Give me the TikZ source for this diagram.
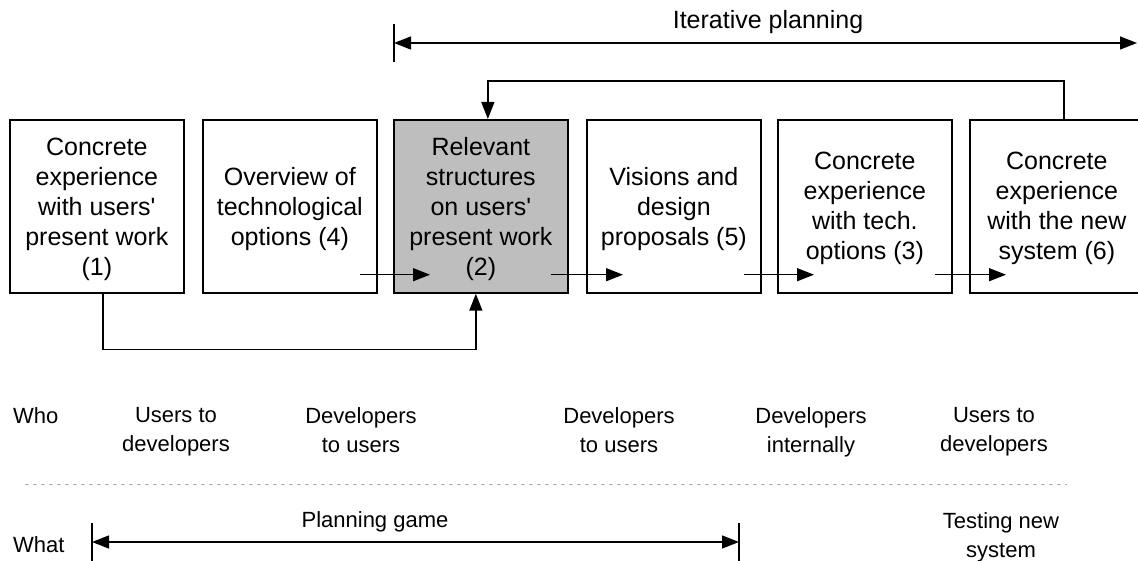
\documentclass[tikz,border=0pt]{standalone}
\usepackage{fontspec}
\setmainfont{Liberation Sans}[Ligatures=TeXOff]
\usetikzlibrary{arrows.meta,calc}
\definecolor{boxgray}{RGB}{190,190,190}
\begin{document}
\begin{tikzpicture}[x=1pt,y=-1pt,
  box/.style={draw,line width=1.7pt,minimum width=174pt,minimum height=173pt,inner sep=0pt,anchor=north west},
  boxtext/.style={align=center,inner sep=0pt,font=\fontsize{25}{30}\selectfont},
  lowtext/.style={align=center,inner sep=0pt,font=\fontsize{22}{29}\selectfont},
  conn/.style={line width=1.4pt},
  arr/.style={line width=1.4pt,-{Triangle[length=17pt,width=13pt]}},
  dblarr/.style={line width=1.4pt,{Triangle[length=17pt,width=13pt]}-{Triangle[length=17pt,width=13pt]}},
  sepline/.style={draw=gray!60,line width=1pt,dash pattern=on 4pt off 4pt}
]
\useasboundingbox (0,0) rectangle (1138,561);
\clip (0,0) rectangle (1138,561);

% boxes
\node[box] (b1) at (9,119) {};
\node[box] (b2) at (202,119) {};
\node[box,fill=boxgray] (b3) at (393,119) {};
\node[box] (b4) at (586,119) {};
\node[box] (b5) at (777,119) {};
\node[box] (b6) at (969,119) {};

% box texts
\node[boxtext] (t1) at ($(b1.center)+(0,3)$) {Concrete\\experience\\with users'\\present work\\(1)};
\node[boxtext] (t2) at ($(b2.center)+(0,3)$) {Overview of\\technological\\options (4)};
\node[boxtext] (t3) at ($(b3.center)+(0,3)$) {Relevant\\structures\\on users'\\present work\\(2)};
\node[boxtext] (t4) at ($(b4.center)+(0,3)$) {Visions and\\design\\proposals (5)};
\node[boxtext] (t5) at ($(b5.center)+(0,2)$) {Concrete\\experience\\with tech.\\options (3)};
\node[boxtext] (t6) at ($(b6.center)+(0,2)$) {Concrete\\experience\\with the new\\system (6)};

% arrows between boxes
\draw[arr] ($(b2.south east)+(-18,-19)$) -- ($(b3.south west)+(37,-19)$);
\draw[arr] ($(b3.south east)+(-18,-19)$) -- ($(b4.south west)+(37,-19)$);
\draw[arr] ($(b4.south east)+(-18,-19)$) -- ($(b5.south west)+(37,-19)$);
\draw[arr] ($(b5.south east)+(-18,-19)$) -- ($(b6.south west)+(37,-19)$);

% feedback loops
\draw[arr] ($(b6.north)+(7,0)$) -- ++(0,-38) -| ($(b3.north)+(7,0)$);
\draw[arr] ($(b1.south)+(6,0)$) -- ++(0,56) -| ($(b3.south)+(-5,0)$);

% iterative planning
\coordinate (ipL) at (394,43);
\coordinate (ipR) at (1137,43);
\draw[dblarr] (ipL) -- (ipR);
\draw[conn] ($(ipL)+(0,-19)$) -- ($(ipL)+(0,19)$);
\node[boxtext,anchor=base] (iplab) at (768,29) {Iterative planning};

% who row
\node[lowtext,anchor=base west] (who) at (13,423) {Who};
\node[lowtext,anchor=north] (w1) at (176,407) {Users to\\developers};
\node[lowtext,anchor=north] (w2) at (361,407) {Developers\\to users};
\node[lowtext,anchor=north] (w3) at (619,407) {Developers\\to users};
\node[lowtext,anchor=north] (w4) at (811,407) {Developers\\internally};
\node[lowtext,anchor=north] (w5) at (994,407) {Users to\\developers};

% separator
\coordinate (sepL) at (25,484);
\coordinate (sepR) at (1067,484);
\draw[sepline] (sepL) -- (sepR);

% what row
\node[lowtext,anchor=base west] (what) at (13,552) {What};
\coordinate (pgL) at (92,542);
\coordinate (pgR) at (739,542);
\draw[dblarr] (pgL) -- (pgR);
\draw[conn] ($(pgL)+(0,-19)$) -- ($(pgL)+(0,25)$);
\draw[conn] ($(pgR)+(0,-19)$) -- ($(pgR)+(0,25)$);
\node[lowtext,anchor=base] (pglab) at (375,527) {Planning game};
\node[lowtext,anchor=north] (test) at (1001,512) {Testing new\\system};
\end{tikzpicture}
\end{document}
